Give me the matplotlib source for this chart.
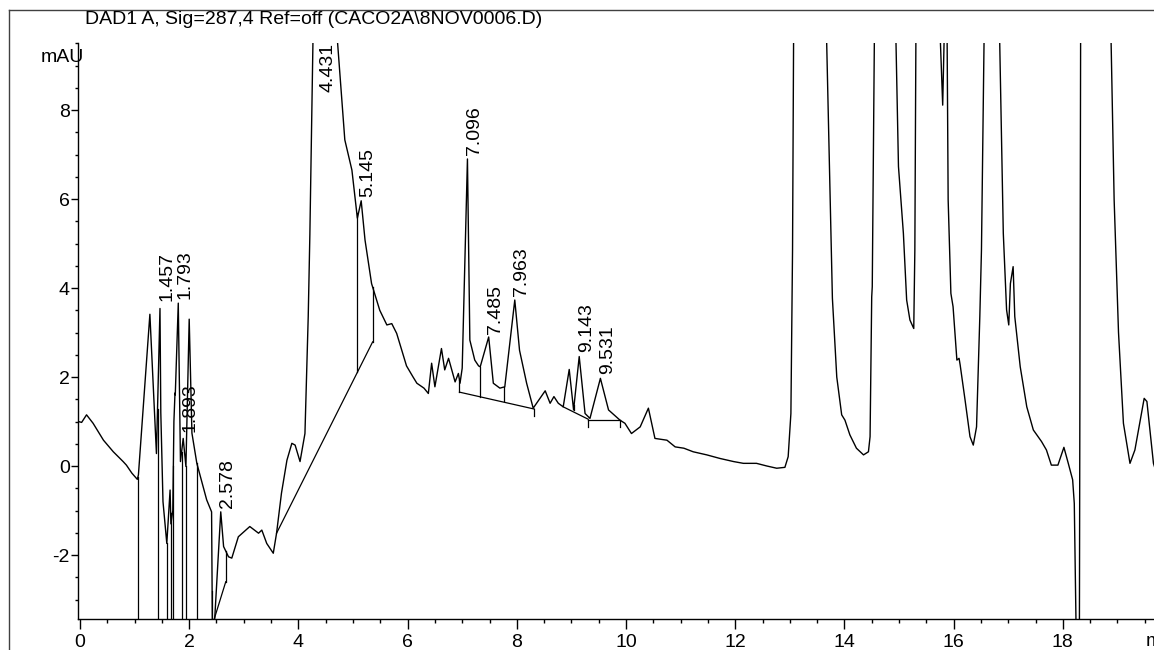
import numpy as np
import matplotlib.pyplot as plt
from matplotlib.lines import Line2D
from matplotlib.ticker import MultipleLocator

plt.rcParams['font.family'] = ['Liberation Sans', 'DejaVu Sans']
plt.rcParams['axes.unicode_minus'] = False

# DAD signal trace (time in min, absorbance in mAU)
time_min = [
    -0.03, 0.03, 0.12, 0.24, 0.43, 0.61, 0.79, 0.85, 0.95, 1.05,
    1.07, 1.28, 1.40, 1.465, 1.48, 1.52, 1.59, 1.65, 1.665, 1.70,
    1.72, 1.74, 1.745, 1.80, 1.84, 1.89, 1.94, 2.00, 2.05, 2.14,
    2.32, 2.41, 2.425, 2.455, 2.578, 2.63, 2.72, 2.78, 2.90, 3.11,
    3.27, 3.33, 3.42, 3.54, 3.60, 3.69, 3.79, 3.88, 3.94, 4.03,
    4.12, 4.18, 4.21, 4.27, 4.43, 4.70, 4.85, 4.98, 5.08, 5.15,
    5.22, 5.34, 5.49, 5.62, 5.71, 5.80, 5.98, 6.10, 6.17, 6.30,
    6.38, 6.44, 6.50, 6.62, 6.68, 6.75, 6.87, 6.93, 6.96, 7.00,
    7.096, 7.14, 7.23, 7.30, 7.33, 7.485, 7.57, 7.69, 7.78, 7.963,
    8.05, 8.18, 8.30, 8.52, 8.61, 8.68, 8.76, 8.85, 8.96, 9.04,
    9.143, 9.25, 9.34, 9.531, 9.68, 9.89, 9.98, 10.10, 10.26, 10.41,
    10.53, 10.75, 10.90, 11.06, 11.23, 11.48, 11.72, 11.97, 12.15, 12.39,
    12.58, 12.76, 12.91, 12.97, 13.02, 13.05, 13.07, 13.30, 13.67, 13.74,
    13.78, 13.86, 13.95, 14.01, 14.10, 14.22, 14.35, 14.44, 14.47, 14.50,
    14.51, 14.55, 14.70, 14.94, 14.99, 15.08, 15.14, 15.20, 15.27, 15.29,
    15.31, 15.50, 15.75, 15.80, 15.83, 15.855, 15.88, 15.90, 15.95, 15.99,
    16.06, 16.10, 16.12, 16.21, 16.30, 16.36, 16.42, 16.48, 16.51, 16.56,
    16.70, 16.84, 16.91, 16.96, 16.97, 17.01, 17.04, 17.09, 17.12, 17.22,
    17.34, 17.46, 17.61, 17.70, 17.79, 17.91, 18.02, 18.10, 18.18, 18.21,
    18.24, 18.26, 18.30, 18.33, 18.60, 18.88, 18.94, 19.02, 19.11, 19.23,
    19.32, 19.49, 19.54, 19.66, 19.75,
]
signal_mau = [
    1.00, 0.98, 1.15, 0.96, 0.58, 0.32, 0.10, 0.02, -0.16, -0.30,
    -0.20, 3.41, 0.28, 3.54, 1.20, -0.80, -1.74, -0.54, -1.30, -1.00,
    1.00, 1.64, 1.60, 3.66, 0.10, 0.62, -0.01, 3.30, 0.74, 0.06,
    -0.76, -1.03, -3.70, -3.70, -1.03, -1.81, -2.04, -2.07, -1.59, -1.36,
    -1.51, -1.44, -1.74, -1.96, -1.51, -0.61, 0.13, 0.51, 0.47, 0.10,
    0.73, 3.36, 5.20, 9.80, 14.0, 9.80, 7.33, 6.65, 5.57, 5.96,
    5.08, 4.10, 3.50, 3.17, 3.20, 2.98, 2.25, 2.00, 1.86, 1.75,
    1.63, 2.31, 1.78, 2.64, 2.16, 2.42, 1.89, 2.08, 1.86, 2.20,
    6.90, 2.83, 2.38, 2.25, 2.23, 2.90, 1.86, 1.75, 1.78, 3.73,
    2.60, 1.86, 1.30, 1.69, 1.41, 1.56, 1.41, 1.33, 2.17, 1.26,
    2.46, 1.18, 1.07, 1.97, 1.26, 1.03, 0.96, 0.73, 0.88, 1.30,
    0.62, 0.58, 0.43, 0.40, 0.32, 0.25, 0.17, 0.10, 0.06, 0.06,
    0.00, -0.05, -0.03, 0.21, 1.18, 4.85, 9.80, 40.0, 9.80, 5.98,
    3.77, 2.00, 1.15, 1.03, 0.70, 0.40, 0.25, 0.32, 0.66, 3.80,
    4.03, 9.80, 20.0, 9.80, 6.73, 5.23, 3.73, 3.28, 3.09, 4.85,
    9.80, 20.0, 9.80, 8.11, 9.80, 12.0, 9.80, 5.98, 3.88, 3.58,
    2.38, 2.42, 2.27, 1.48, 0.66, 0.47, 0.88, 3.36, 4.85, 9.80,
    20.0, 9.80, 5.23, 3.84, 3.51, 3.17, 4.10, 4.48, 3.36, 2.23,
    1.33, 0.81, 0.55, 0.36, 0.02, 0.02, 0.42, 0.06, -0.31, -0.84,
    -3.39, -6.00, -6.00, 12.0, 30.0, 9.80, 5.98, 3.00, 0.96, 0.06,
    0.36, 1.52, 1.45, 0.06, -0.30,
]

# integrated peaks: retention time and apex height (None = off scale)
peak_rt = [1.457, 1.793, 1.893, 2.578, 4.431, 5.145, 7.096, 7.485, 7.963, 9.143, 9.531]
peak_height = [3.62, 3.66, 0.66, -1.03, None, 5.96, 6.90, 2.88, 3.73, 2.46, 1.97]

# integration baselines (start time, start mAU, end time, end mAU)
baselines = [
    (2.455, -3.45, 2.67, -2.60),
    (3.60, -1.51, 5.36, 2.79),
    (6.95, 1.66, 8.32, 1.28),
    (8.85, 1.33, 9.31, 1.05),
    (9.31, 1.03, 9.89, 1.03),
]
# drop lines from baseline up to the signal
drop_t = [1.06, 1.42, 1.59, 1.66, 1.71, 1.86, 1.94, 2.14, 2.42,
          2.67, 5.07, 5.36, 6.95, 7.33, 7.77, 9.05]
drop_base = [-5, -5, -5, -5, -5, -5, -5, -5, -5,
             -2.60, 2.12, 2.79, 1.66, 1.56, 1.46, 1.26]
# baseline end marks
mark_t = [8.32, 9.31, 9.89]
mark_v = [1.28, 1.03, 1.03]

fs = 14

fig = plt.figure(figsize=(11.54, 6.5), dpi=100)
ax = fig.add_axes([78.3 / 1154, 31 / 650, (1154 - 78.3) / 1154, 576 / 650])

ax.plot(time_min, signal_mau, color='black', lw=1.0)

for t0, v0, t1, v1 in baselines:
    ax.plot([t0, t1], [v0, v1], color='black', lw=0.9)
for t, b in zip(drop_t, drop_base):
    top = np.interp(t, time_min, signal_mau)
    ax.plot([t, t], [b, top], color='black', lw=0.9)
for t, v in zip(mark_t, mark_v):
    ax.plot([t, t], [v, v - 0.15], color='black', lw=0.9)

ax.set_xlim(-0.031, 19.67)
ax.set_ylim(-3.438, 9.506)

for rt, h in zip(peak_rt, peak_height):
    if h is None:
        ax.annotate(f'{rt:.3f}', (rt, 9.506), xytext=(-2, 0), textcoords='offset points',
                    rotation=90, ha='left', va='top', fontsize=fs)
    else:
        ax.annotate(f'{rt:.3f}', (rt, h), xytext=(-1, 3), textcoords='offset points',
                    rotation=90, ha='left', va='bottom', fontsize=fs)

for side in ['top', 'right']:
    ax.spines[side].set_visible(False)
ax.spines['left'].set_linewidth(1.0)
ax.spines['bottom'].set_linewidth(1.0)

ax.xaxis.set_major_locator(MultipleLocator(2))
ax.xaxis.set_minor_locator(MultipleLocator(0.5))
ax.yaxis.set_major_locator(MultipleLocator(2))
ax.yaxis.set_minor_locator(MultipleLocator(0.5))
ax.tick_params(axis='x', which='major', length=7.5, width=1, labelsize=fs, pad=3)
ax.tick_params(axis='x', which='minor', length=3, width=1)
ax.tick_params(axis='y', which='major', length=5, width=1, labelsize=fs, pad=1)
ax.tick_params(axis='y', which='minor', length=2.2, width=1)

fig.text(85 / 1154, 1 - 20 / 650, 'DAD1 A, Sig=287,4 Ref=off (CACO2A\\8NOV0006.D)',
         ha='left', va='center', fontsize=fs)
fig.text(84 / 1154, 1 - 57 / 650, 'mAU', ha='right', va='center', fontsize=fs)
fig.text(1146 / 1154, 1 - 642 / 650, 'min', ha='left', va='center', fontsize=fs)

# outer frame
frame_col = '#404040'
fig.add_artist(Line2D([9 / 1154, 1], [1 - 10 / 650, 1 - 10 / 650], color=frame_col, lw=1))
fig.add_artist(Line2D([9 / 1154, 9 / 1154], [0, 1 - 10 / 650], color=frame_col, lw=1))

fig.savefig('out.png', dpi=100)
